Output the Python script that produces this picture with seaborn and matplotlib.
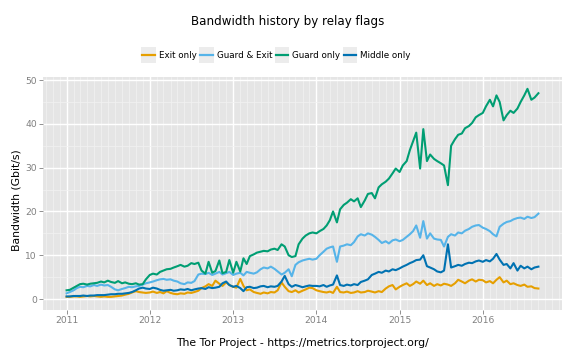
import numpy as np
import pandas as pd
import matplotlib
matplotlib.use("Agg")
import matplotlib.pyplot as plt
import matplotlib.dates as mdates
import seaborn as sns
from matplotlib.lines import Line2D
from matplotlib.patches import Rectangle
from matplotlib.legend_handler import HandlerBase

# ---------------- data (Gbit/s, sampled on the 1st and 15th of each month) ----------------
start_date = "2011-01-01"
end_date = "2016-09-01"

exit_only = [
    0.5, 0.5, 0.6, 0.6, 0.5, 0.6, 0.7, 0.6, 0.7, 0.6, 0.5, 0.6, 0.5, 0.5, 0.6, 0.7, 0.8, 1.0, 1.2, 1.5, 1.8, 1.6, 1.5, 1.4,
    1.5, 1.7, 1.4, 1.6, 1.3, 1.8, 1.4, 1.2, 1.1, 1.3, 1.2, 1.5, 1.4, 1.6, 1.9, 2.5, 2.9, 3.4, 3.0, 4.2, 3.5, 3.0, 3.8, 3.2,
    2.8, 2.6, 4.6, 3.0, 2.0, 2.2, 1.6, 1.4, 1.2, 1.5, 1.3, 1.6, 1.5, 2.0, 3.8, 2.8, 1.8, 1.6, 2.0, 1.5, 1.9, 2.2, 2.6, 2.5,
    2.0, 1.8, 1.6, 1.5, 1.7, 1.4, 2.8, 1.6, 1.5, 1.7, 1.4, 1.5, 1.8, 1.5, 1.6, 1.9, 1.7, 1.5, 1.8, 1.6, 2.4, 2.9, 3.2, 2.2,
    2.8, 3.2, 3.6, 3.0, 3.4, 4.0, 3.5, 4.2, 3.2, 3.6, 3.0, 3.4, 3.1, 3.5, 3.3, 3.0, 3.6, 4.4, 4.0, 3.6, 4.2, 4.5, 4.0, 4.4,
    4.3, 3.8, 4.1, 3.6, 4.4, 5.0, 3.8, 4.2, 3.4, 3.6, 3.2, 3.0, 3.3, 2.8, 2.9, 2.5, 2.4,
]

guard_exit = [
    1.3, 1.6, 2.0, 2.5, 2.8, 2.7, 3.0, 2.9, 3.2, 3.0, 3.3, 3.1, 3.2, 2.8, 2.2, 2.0, 2.3, 2.5, 2.8, 2.7, 2.9, 3.0, 3.3, 3.6,
    3.8, 4.0, 4.3, 4.5, 4.6, 4.4, 4.5, 4.2, 4.0, 3.6, 3.4, 3.8, 3.7, 4.1, 5.6, 5.8, 5.7, 6.0, 5.5, 5.8, 6.2, 5.6, 5.9, 6.2,
    5.5, 5.8, 6.0, 5.4, 6.2, 6.0, 5.8, 6.1, 6.8, 7.2, 7.0, 7.4, 6.9, 6.3, 5.6, 6.0, 6.8, 5.2, 7.8, 8.4, 8.8, 9.0, 9.2, 9.0,
    9.2, 10.0, 10.8, 11.5, 11.8, 12.0, 8.5, 12.0, 12.2, 12.5, 12.3, 13.0, 14.3, 14.8, 14.5, 15.0, 14.7, 14.2, 13.5, 12.8, 13.2, 12.7, 13.4, 13.6,
    13.2, 13.5, 14.2, 14.8, 15.5, 16.8, 14.0, 17.8, 13.8, 15.0, 13.8, 13.6, 13.5, 12.0, 14.2, 14.8, 14.5, 15.2, 15.0, 15.6, 16.0, 16.5, 16.8, 16.9,
    16.3, 16.0, 15.5, 14.8, 14.3, 16.5, 17.2, 17.6, 17.8, 18.2, 18.5, 18.6, 18.3, 18.8, 18.5, 18.7, 19.5,
]

guard_only = [
    2.0, 2.1, 2.6, 3.0, 3.4, 3.5, 3.3, 3.5, 3.6, 3.7, 4.0, 3.8, 4.2, 3.9, 3.7, 4.1, 3.6, 3.8, 3.5, 3.4, 3.6, 3.3, 3.4, 4.5,
    5.5, 5.8, 5.6, 6.2, 6.5, 6.8, 6.9, 7.2, 7.5, 7.8, 7.4, 7.6, 8.2, 8.0, 8.3, 6.5, 5.8, 8.5, 6.0, 6.4, 8.8, 5.9, 6.2, 8.9,
    6.0, 8.5, 6.3, 9.3, 8.0, 9.8, 10.2, 10.6, 10.8, 11.0, 10.9, 11.3, 11.5, 11.2, 12.5, 12.0, 10.0, 9.6, 9.8, 12.5, 13.8, 14.5, 15.0, 15.2,
    15.0, 15.5, 16.0, 16.8, 18.0, 20.0, 17.5, 20.5, 21.5, 22.0, 22.8, 22.3, 23.0, 21.0, 22.5, 24.0, 24.2, 23.0, 25.5, 26.2, 26.8, 27.5, 28.7, 29.8,
    29.0, 30.5, 31.5, 34.0, 36.0, 38.0, 29.8, 38.8, 31.5, 33.0, 32.0, 31.5, 31.0, 30.5, 26.0, 35.0, 36.5, 37.5, 37.8, 39.0, 39.5, 40.2, 41.5, 42.0,
    42.5, 44.0, 45.5, 44.0, 46.5, 45.0, 40.8, 42.0, 43.0, 42.5, 43.5, 45.0, 46.5, 48.0, 45.5, 46.0, 47.0,
]

middle_only = [
    0.6, 0.6, 0.7, 0.7, 0.7, 0.8, 0.7, 0.8, 0.8, 0.9, 0.9, 0.9, 1.0, 1.1, 1.1, 1.2, 1.2, 1.3, 1.4, 1.6, 2.0, 2.4, 2.6, 2.4,
    2.3, 2.6, 2.4, 2.1, 1.9, 2.0, 2.1, 1.9, 2.0, 2.2, 2.1, 2.3, 2.0, 2.2, 2.4, 2.5, 2.3, 2.7, 2.5, 2.6, 2.8, 3.6, 4.0, 3.2,
    2.8, 3.0, 2.5, 1.8, 2.7, 2.8, 2.5, 2.6, 2.9, 3.0, 2.7, 2.9, 2.8, 3.0, 4.0, 5.3, 3.4, 2.8, 3.2, 3.0, 2.7, 2.9, 3.1, 3.0,
    3.0, 2.9, 3.2, 2.8, 3.1, 3.3, 5.4, 3.2, 3.0, 3.3, 3.1, 3.4, 3.2, 3.9, 4.2, 4.5, 5.5, 5.8, 6.2, 6.0, 6.5, 6.3, 6.8, 6.6,
    7.0, 7.4, 7.8, 8.2, 8.5, 8.9, 9.0, 10.0, 7.5, 7.2, 6.8, 6.3, 6.1, 6.5, 12.5, 7.2, 7.5, 7.8, 7.6, 8.0, 8.3, 8.2, 8.6, 8.8,
    8.5, 8.9, 8.6, 9.2, 10.3, 9.0, 7.8, 8.0, 7.0, 8.2, 6.5, 7.6, 7.0, 7.4, 6.8, 7.2, 7.4,
]

flags = ["Exit only", "Guard & Exit", "Guard only", "Middle only"]
colors = ["#E69F00", "#56B4E9", "#009E73", "#0072B2"]
y_ticks = [0, 10, 20, 30, 40, 50]

title = "Bandwidth history by relay flags"
ylabel = "Bandwidth (Gbit/s)"
caption = "The Tor Project - https://metrics.torproject.org/"

# ---------------- build table ----------------
dates = pd.date_range(start_date, end_date, freq="SMS")
series = [exit_only, guard_exit, guard_only, middle_only]
frames = []
for name, vals in zip(flags, series):
    frames.append(pd.DataFrame({"date": dates, "value": vals, "flag": name}))
df = pd.concat(frames, ignore_index=True)

# ---------------- figure ----------------
fig = plt.figure(figsize=(5.76, 3.6), dpi=100)
ax = fig.add_axes([43 / 576, 1 - 310 / 360, (562 - 43) / 576, (310 - 77) / 360])

ax.set_facecolor("#E5E5E5")
for s in ax.spines.values():
    s.set_visible(False)

sns.lineplot(data=df, x="date", y="value", hue="flag", hue_order=flags,
             palette=dict(zip(flags, colors)), linewidth=1.5, ax=ax,
             legend=False, zorder=3)

d0, d1 = dates[0], dates[-1]
span = d1 - d0
ax.set_xlim(d0 - span * 0.05, d1 + span * 0.05)
ax.set_ylim(-2.5, 50.7)

ax.xaxis.set_major_locator(mdates.YearLocator())
ax.xaxis.set_major_formatter(mdates.DateFormatter("%Y"))
ax.xaxis.set_minor_locator(mdates.MonthLocator())
ax.set_yticks(y_ticks)
ax.set_yticks([5, 15, 25, 35, 45], minor=True)

ax.grid(which="major", color="white", linewidth=1.0, zorder=1)
ax.grid(which="minor", color="#F2F2F2", linewidth=0.5, zorder=0.5)
ax.set_axisbelow(True)

ax.tick_params(axis="both", which="major", colors="#7F7F7F", length=3.0, width=0.6,
               labelsize=6.6, labelcolor="#7F7F7F", pad=1.5)
ax.tick_params(axis="both", which="minor", length=0)

ax.set_xlabel(caption, fontsize=7.8, color="black")
ax.xaxis.set_label_coords(0.5, (310 - 343) / 233)
ax.xaxis.label.set_va("center")
ax.set_ylabel(ylabel, fontsize=7.8, color="black")
ax.yaxis.set_label_coords((17 - 43) / 519, 0.47)
ax.yaxis.label.set_va("center")

fig.text(288 / 576, 1 - 22 / 360, title, ha="center", va="center", fontsize=8.6)


class KeyHandler(HandlerBase):
    def create_artists(self, legend, orig_handle, xdescent, ydescent, width, height, fontsize, trans):
        x0, y0 = -xdescent, -ydescent
        rect = Rectangle((x0, y0), width, height, facecolor="#ECECEC", edgecolor="none", transform=trans)
        line = Line2D([x0 + width * 0.06, x0 + width * 0.94], [y0 + height / 2] * 2,
                      color=orig_handle.get_color(), linewidth=1.6, transform=trans)
        return [rect, line]


handles = [Line2D([], [], color=c) for c in colors]
fig.legend(handles, flags, loc="center", bbox_to_anchor=(276 / 576, 1 - 55 / 360),
           ncol=4, frameon=False, fontsize=6.3, handlelength=1.65, handleheight=2.4,
           handletextpad=0.35, columnspacing=0.3, borderpad=0, borderaxespad=0,
           handler_map={Line2D: KeyHandler()})

fig.savefig("out.png", dpi=100)
